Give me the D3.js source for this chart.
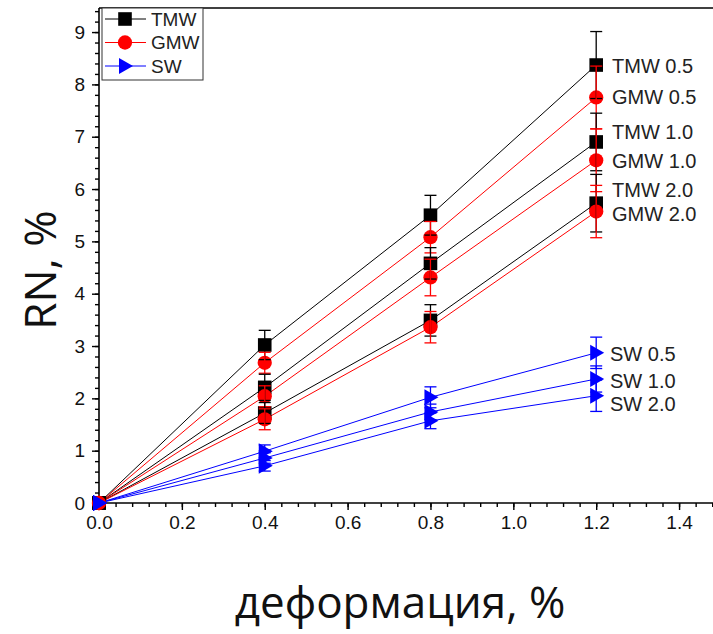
<!DOCTYPE html>
<html><head><meta charset="utf-8">
<script src="https://cdn.jsdelivr.net/npm/d3@7"></script>
<style>body{margin:0;background:#fff}</style></head>
<body><svg id="c" width="713" height="634"></svg>
<script>
// ---- data ----
const strainX = [0, 0.4, 0.8, 1.2];
const seriesNames = ["TMW 0.5","GMW 0.5","TMW 1.0","GMW 1.0","TMW 2.0","GMW 2.0","SW 0.5","SW 1.0","SW 2.0"];
const seriesType  = ["TMW","GMW","TMW","GMW","TMW","GMW","SW","SW","SW"];
const tmw05 = [0, 3.02, 5.50, 8.37];
const gmw05 = [0, 2.68, 5.08, 7.75];
const tmw10 = [0, 2.21, 4.58, 6.90];
const gmw10 = [0, 2.04, 4.31, 6.55];
const tmw20 = [0, 1.72, 3.49, 5.73];
const gmw20 = [0, 1.60, 3.36, 5.57];
const sw05  = [0, 0.99, 2.02, 2.87];
const sw10  = [0, 0.86, 1.74, 2.37];
const sw20  = [0, 0.71, 1.57, 2.05];
const tmw05Err = [0, 0.28, 0.38, 0.64];
const gmw05Err = [0, 0.20, 0.30, 0.60];
const tmw10Err = [0, 0.25, 0.30, 0.55];
const gmw10Err = [0, 0.20, 0.35, 0.60];
const tmw20Err = [0, 0.20, 0.30, 0.55];
const gmw20Err = [0, 0.20, 0.30, 0.50];
const sw05Err  = [0, 0.12, 0.20, 0.30];
const sw10Err  = [0, 0.10, 0.15, 0.25];
const sw20Err  = [0, 0.10, 0.15, 0.30];
const legendNames = ["TMW","GMW","SW"];
const xTickVals = [0,0.2,0.4,0.6,0.8,1.0,1.2,1.4];
const yTickVals = [0,1,2,3,4,5,6,7,8,9];
const xTitle = "деформация, %";
const yTitle = "RN, %";

const values = [tmw05,gmw05,tmw10,gmw10,tmw20,gmw20,sw05,sw10,sw20];
const errs = [tmw05Err,gmw05Err,tmw10Err,gmw10Err,tmw20Err,gmw20Err,sw05Err,sw10Err,sw20Err];
const colorOf = {TMW:"#000000", GMW:"#ff0000", SW:"#0000ff"};
const labelColor = "#222";

// ---- layout ----
const svg = d3.select("#c");
const x0 = 99, x1 = 720.5, yBottom = 503, yTop = 8;
const x = d3.scaleLinear().domain([0,1.5]).range([x0,x1]);
const y = d3.scaleLinear().domain([0,9.46]).range([yBottom,yTop]);

const sym = {
  TMW: d3.symbol().type(d3.symbolSquare).size(185),
  GMW: d3.symbol().type(d3.symbolCircle).size(160),
  SW: null
};
function drawMarker(g, type, cx, cy){
  const c = colorOf[type];
  if(type==="SW"){
    g.append("path").attr("d",`M${cx-6},${cy-8}L${cx+8},${cy}L${cx-6},${cy+8}Z`).attr("fill",c);
  } else {
    g.append("path").attr("d",sym[type]()).attr("transform",`translate(${cx},${cy})`).attr("fill",c);
  }
}

// axes
const font = "'Liberation Sans', Arial, sans-serif";
const xAxis = d3.axisBottom(x).tickValues(xTickVals).tickFormat(d3.format(".1f")).tickSize(7).tickPadding(6);
svg.append("g").attr("transform",`translate(0,${yBottom})`).call(xAxis);
const xMinor = d3.range(0,1.5001,0.04).map(v=>+v.toFixed(2));
svg.append("g").attr("transform",`translate(0,${yBottom})`)
  .call(d3.axisBottom(x).tickValues(xMinor).tickSize(4).tickFormat(""));
const yAxis = d3.axisLeft(y).tickValues(yTickVals).tickSize(7).tickPadding(7);
svg.append("g").attr("transform",`translate(${x0},0)`).call(yAxis);
const yMinor = d3.range(0,9.41,0.2).map(v=>+v.toFixed(2));
svg.append("g").attr("transform",`translate(${x0},0)`)
  .call(d3.axisLeft(y).tickValues(yMinor).tickSize(4).tickFormat(""));
svg.selectAll(".domain").remove();
svg.selectAll(".tick line").attr("stroke","#000").attr("stroke-width",1.4);
svg.selectAll(".tick text").attr("font-family",font).attr("font-size",19).attr("fill","#111");
// frame lines
svg.append("line").attr("x1",x0).attr("x2",713).attr("y1",yBottom).attr("y2",yBottom).attr("stroke","#000").attr("stroke-width",1.6);
svg.append("line").attr("x1",x0).attr("x2",x0).attr("y1",yBottom).attr("y2",yTop).attr("stroke","#000").attr("stroke-width",1.6);
svg.append("line").attr("x1",x0).attr("x2",713).attr("y1",yTop).attr("y2",yTop).attr("stroke","#000").attr("stroke-width",1.6);

// lines
const line = d3.line().x((d,i)=>x(strainX[i])).y(d=>y(d));
const plot = svg.append("g");
values.forEach((vals,si)=>{
  plot.append("path").datum(vals).attr("d",line).attr("fill","none")
    .attr("stroke",colorOf[seriesType[si]]).attr("stroke-width",1);
});
// markers
values.forEach((vals,si)=>{
  vals.forEach((v,i)=>drawMarker(plot, seriesType[si], x(strainX[i]), y(v)));
});
// error bars
values.forEach((vals,si)=>{
  const c = colorOf[seriesType[si]];
  vals.forEach((v,i)=>{
    const e = errs[si][i]; if(!e) return;
    const cx = x(strainX[i]);
    plot.append("line").attr("x1",cx).attr("x2",cx).attr("y1",y(v-e)).attr("y2",y(v+e)).attr("stroke",c).attr("stroke-width",1.3);
    [v-e, v+e].forEach(b=>{
      plot.append("line").attr("x1",cx-6).attr("x2",cx+6).attr("y1",y(b)).attr("y2",y(b)).attr("stroke",c).attr("stroke-width",1.3);
    });
  });
});

// series labels at right
const labelY = [66, 97, 132, 161, 190, 214, 354, 381, 404];
seriesNames.forEach((n,si)=>{
  svg.append("text").attr("x", seriesType[si]==="SW"?610:612).attr("y",labelY[si]).attr("dy","0.36em")
    .attr("font-family",font).attr("font-size",20).attr("fill",labelColor).text(n);
});

// legend
const lg = svg.append("g");
lg.append("rect").attr("x",102).attr("y",8).attr("width",101).attr("height",72)
  .attr("fill","#fff").attr("stroke","#333").attr("stroke-width",1);
legendNames.forEach((n,i)=>{
  const ly = 19 + i*23.5;
  lg.append("line").attr("x1",105).attr("x2",146).attr("y1",ly).attr("y2",ly).attr("stroke",colorOf[n]).attr("stroke-width",1);
  drawMarker(lg, n, 125, ly);
  lg.append("text").attr("x",151).attr("y",ly).attr("dy","0.36em").attr("font-family",font).attr("font-size",19).attr("fill",labelColor).text(n);
});

// titles
svg.append("text").attr("x",400).attr("y",618).attr("text-anchor","middle")
  .attr("font-family","'Open Sans', 'Noto Sans', sans-serif").attr("font-size",44).attr("fill","#111").text(xTitle);
svg.append("text").attr("transform","translate(56,270) rotate(-90)").attr("text-anchor","middle")
  .attr("font-family","'Open Sans', 'Noto Sans', sans-serif").attr("font-size",44).attr("fill","#111").text(yTitle);
</script></body></html>
